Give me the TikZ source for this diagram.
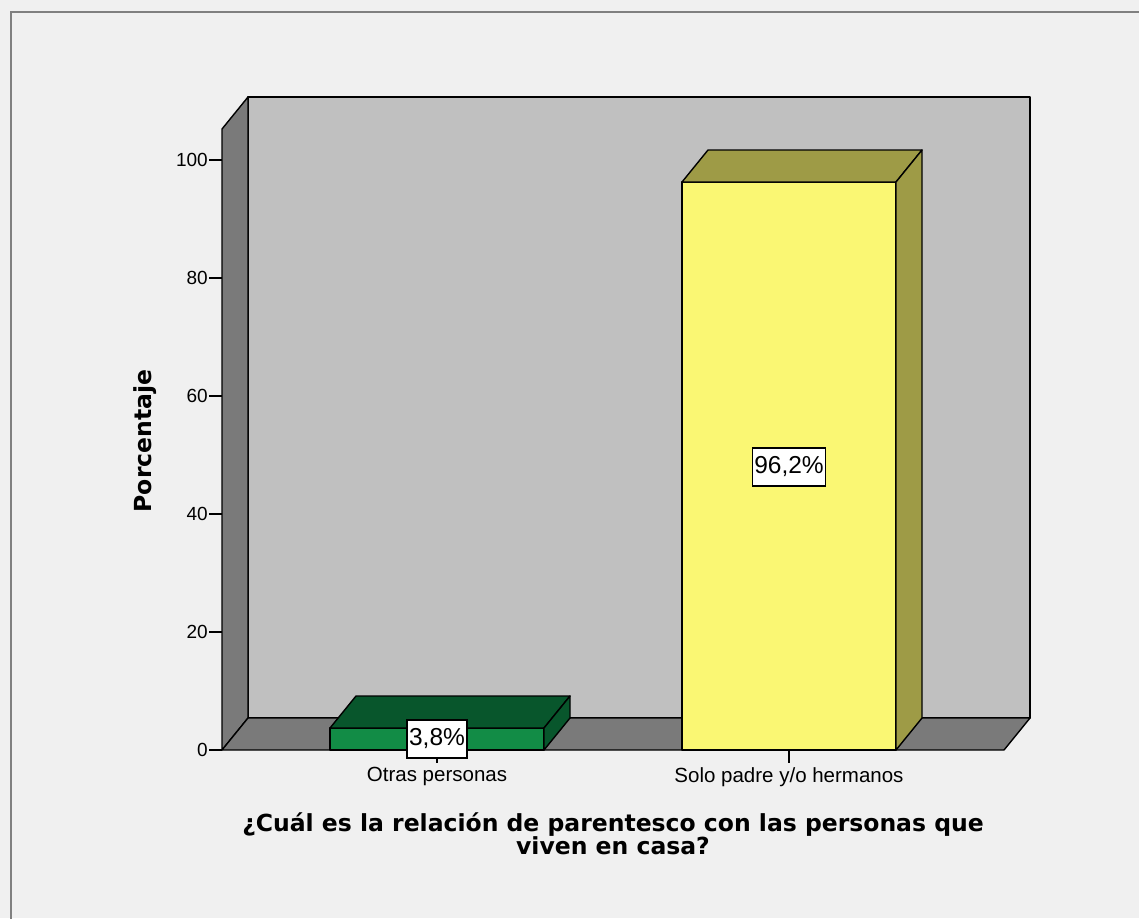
\documentclass[tikz,border=0pt]{standalone}
\usepackage{fontspec}
\setmainfont{Liberation Sans}
\newfontfamily\titlefont{DejaVu Sans}
\usetikzlibrary{positioning}
\definecolor{paneBg}{HTML}{F0F0F0}
\definecolor{paneEdge}{HTML}{808080}
\definecolor{wallBack}{HTML}{C0C0C0}
\definecolor{wallSide}{HTML}{7A7A7A}
\definecolor{greenFront}{HTML}{128C46}
\definecolor{greenTop}{HTML}{08562C}
\definecolor{yellowFront}{HTML}{FAF773}
\definecolor{yellowTop}{HTML}{9E9B46}
\tikzset{
	face/.style={draw=black, line width=1.4pt, line join=round},
	tick label/.style={anchor=east, inner sep=1pt, font=\fontsize{19}{21}\selectfont},
	cat label/.style={anchor=north, inner sep=1pt, font=\fontsize{20.5}{22}\selectfont},
	value box/.style={draw=black, line width=1.3pt, fill=white, inner xsep=2pt, inner ysep=0pt, minimum height=38pt, font=\fontsize{24.5}{26}\selectfont},
	axis title/.style={font=\titlefont\bfseries\fontsize{23.5}{23}\selectfont, align=center}
}
% bar: x0, x1, top (px), front colour, top colour
\newcommand\drawbarbox[5]{
	\fill[#4, face] (#1,750) rectangle (#2,#3);
	\fill[#5, face] (#1,#3) -- ++(26,-32) -- (#2+26,#3-32) -- (#2,#3) -- cycle;
	\fill[#5, face] (#2,#3) -- (#2+26,#3-32) -- (#2+26,718) -- (#2,750) -- cycle;
}

\begin{document}
\begin{tikzpicture}[x=1pt, y=-1pt]
	\useasboundingbox (0,0) rectangle (1139,918);
	\fill[paneBg] (0,0) rectangle (1139,918);
	\draw[paneEdge, line width=2pt] (11,930) -- (11,12) -- (1150,12);

	% walls and floor
	\fill[wallBack, face] (248,97) rectangle (1030,718);
	\fill[wallSide, face] (222,750) -- (222,129) -- (248,97) -- (248,718) -- cycle;
	\fill[wallSide, face] (222,750) -- (248,718) -- (1030,718) -- (1004,750) -- cycle;

	% y axis
	\foreach \v in {0,20,...,100}{
		\draw[line width=1.4pt] (209,750-5.9*\v) -- (222,750-5.9*\v);
		\node[tick label] (t\v) at (209,750-5.9*\v) {\v};
	}

	% bars
	\drawbarbox{330}{544}{728}{greenFront}{greenTop}
	\drawbarbox{682}{896}{182}{yellowFront}{yellowTop}

	% category ticks and labels
	\draw[line width=1.4pt] (437,750) -- (437,763);
	\draw[line width=1.4pt] (789,750) -- (789,763);
	\node[cat label] (c1) at (437,766) {Otras personas};
	\node[cat label] (c2) at (789,766) {Solo padre y/o hermanos};

	% value labels
	\node[value box] (v1) at (437,739) {3,8\%};
	\node[value box] (v2) at (789,467) {96,2\%};

	% axis titles
	\node[axis title, rotate=90] (ytitle) at (145,441) {Porcentaje};
	\node[axis title] (xtitle) at (613,834) {¿Cuál es la relación de parentesco con las personas que\\viven en casa?};
\end{tikzpicture}
\end{document}
